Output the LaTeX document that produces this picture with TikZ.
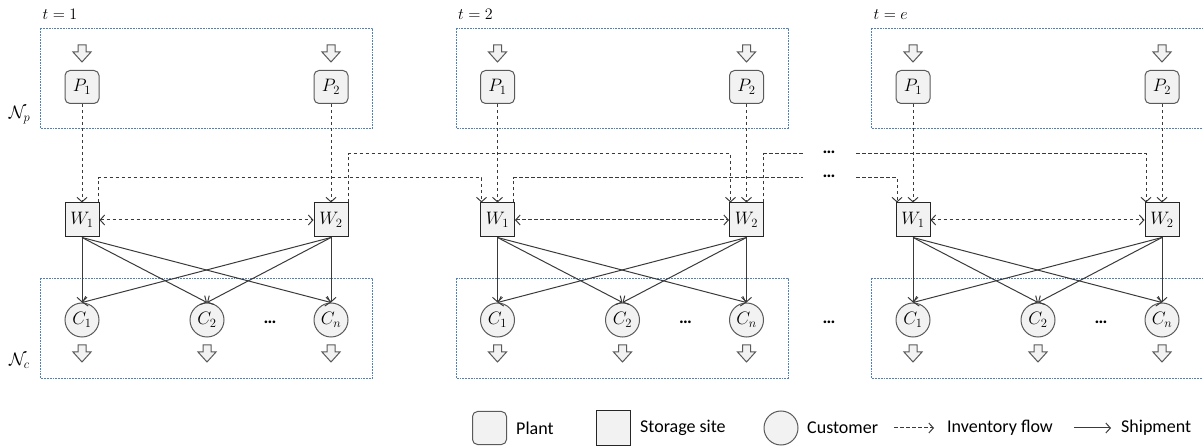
\RequirePackage{fix-cm}
\documentclass[tikz,border=0pt]{standalone}
\usepackage{fontspec}
\newfontfamily\legendfont{Carlito}
\usetikzlibrary{arrows.meta}

\definecolor{boxblue}{HTML}{4F81BD}
\definecolor{linegray}{HTML}{3A3A3A}
\definecolor{nodefill}{HTML}{F2F2F2}
\definecolor{nodeedge}{HTML}{5A5A5A}

\newcommand\lblfont{\fontsize{18}{20}\selectfont}
\newcommand\ttlfont{\fontsize{16}{18}\selectfont}
\newcommand\lgdfont{\legendfont\fontsize{18}{21}\selectfont}

\tikzset{
  >={Straight Barb[length=4.5pt,width=10pt]},
  panelbox/.style={draw=boxblue, line width=0.7pt, dash pattern=on 1.8pt off 1pt},
  plantnode/.style={draw=nodeedge, fill=nodefill, rounded corners=5pt,
    minimum width=34pt, minimum height=33pt, line width=1pt, inner sep=0pt, font=\lblfont},
  storenode/.style={draw=black!85, fill=nodefill, minimum width=34pt,
    minimum height=34pt, line width=1pt, inner sep=0pt, font=\lblfont},
  custnode/.style={circle, draw=nodeedge, fill=nodefill, minimum size=34pt,
    line width=1pt, inner sep=0pt, font=\lblfont},
  invline/.style={draw=linegray, line width=1pt, dash pattern=on 3.5pt off 2.5pt},
  invflow/.style={invline, ->},
  shipflow/.style={draw=linegray, line width=1pt, ->},
  dotsnode/.style={anchor=base, inner sep=0pt, font=\lgdfont\bfseries},
  lgdtext/.style={anchor=west, inner sep=0pt, font=\lgdfont},
  inflow/.pic={
    \draw[fill=nodefill, draw=nodeedge, line width=1pt, line join=miter]
      (-4,-8) -- (4,-8) -- (4,-1) -- (9,-1) -- (0,9) -- (-9,-1) -- (-4,-1) -- cycle;
  }
}

\begin{document}
\begin{tikzpicture}[x=1pt, y=-1pt]
\useasboundingbox (0,0) rectangle (1203,446);

% the three periods
\foreach \k/\dx/\tlab in {1/0/1,2/415.5/2,3/831/e}{
  \begin{scope}[xshift=\dx]
    \draw[panelbox] (40.5,28.3) rectangle (372.5,128.3);
    \draw[panelbox] (40.5,278.3) rectangle (372.5,378.3);
    \node[anchor=base west, inner sep=0pt, font=\ttlfont] (T-\k) at (42.5,19.5) {$t=\tlab$};
    % plants with their supply
    \pic at (82,53) {inflow};
    \pic at (331,53) {inflow};
    \node[plantnode] (P1-\k) at (82,87) {$P_1$};
    \node[plantnode] (P2-\k) at (331,87) {$P_2$};
    % storage sites
    \node[storenode] (W1-\k) at (82,220) {$W_1$};
    \node[storenode] (W2-\k) at (331,220) {$W_2$};
    % customers with their demand
    \node[custnode] (C1-\k) at (82,320) {$C_1$};
    \node[custnode] (C2-\k) at (207,320) {$C_2$};
    \node[custnode] (Cn-\k) at (331,320) {$C_n$};
    \node[dotsnode] (D-\k) at (270,324) {…};
    \pic at (82,353) {inflow};
    \pic at (207,353) {inflow};
    \pic at (331,353) {inflow};
  \end{scope}
  % flows inside the period
  \draw[invflow] (P1-\k.south) -- (W1-\k.north);
  \draw[invflow] (P2-\k.south) -- (W2-\k.north);
  \draw[invline, <->] (W1-\k.east) -- (W2-\k.west);
  \foreach \w in {W1,W2}{
    \foreach \c in {C1,C2,Cn}{
      \draw[shipflow] (\w-\k.south) -- (\c-\k.north);
    }
  }
}

\node[inner sep=0pt, font=\lblfont] (Np) at (19.5,115) {$\mathcal{N}_p$};
\node[inner sep=0pt, font=\lblfont] (Nc) at (19.5,361) {$\mathcal{N}_c$};

% inventory carried from period 1 to period 2
\draw[invflow] ([xshift=-1.5pt]W1-1.north east) -- ++(0,-24.5) -| ([xshift=1.5pt]W1-2.north west);
\draw[invflow] ([xshift=-0.5pt]W2-1.north east) -- ++(0,-48.5) -| ([xshift=1.5pt]W2-2.north west);

% inventory carried on towards the last period
\coordinate (gA1) at (803,178);
\coordinate (gA2) at (856,178);
\coordinate (gB1) at (803,154);
\coordinate (gB2) at (856,154);
\draw[invline] ([xshift=-1.5pt]W1-2.north east) |- (gA1);
\draw[invline] ([xshift=-0.5pt]W2-2.north east) |- (gB1);
\draw[invflow] (gA2) -| ([xshift=1.5pt]W1-3.north west);
\draw[invflow] (gB2) -| ([xshift=1.5pt]W2-3.north west);
\node[dotsnode] (DA) at (829,177.5) {…};
\node[dotsnode] (DB) at (829,153.5) {…};
\node[dotsnode] (DC) at (829,324) {…};

% legend
\node[plantnode] (LP) at (489.5,428) {};
\node[lgdtext] (LPt) at (516,428) {Plant};
\node[storenode] (LW) at (613.5,428) {};
\node[lgdtext] (LWt) at (640,428) {Storage site};
\node[custnode] (LC) at (781,428) {};
\node[lgdtext] (LCt) at (807,428) {Customer};
\coordinate (LI1) at (894,428);
\coordinate (LI2) at (934,428);
\draw[invflow] (LI1) -- (LI2);
\node[lgdtext] (LIt) at (947,428) {Inventory flow};
\coordinate (LS1) at (1074,428);
\coordinate (LS2) at (1111,428);
\draw[shipflow] (LS1) -- (LS2);
\node[lgdtext] (LSt) at (1121,428) {Shipment};
\end{tikzpicture}
\end{document}
